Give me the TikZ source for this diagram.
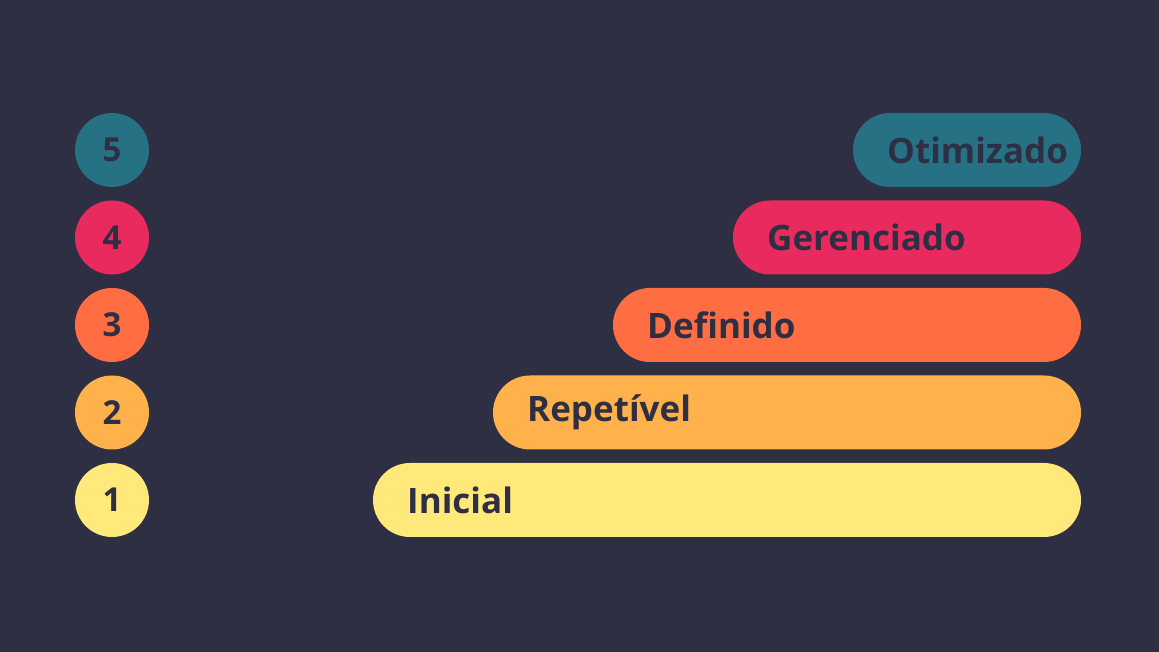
\documentclass[tikz,border=0pt]{standalone}
\usepackage{fontspec}
\setmainfont{Open Sans}
\usetikzlibrary{positioning}
\definecolor{bgnavy}{HTML}{2F2F44}
\definecolor{lvlfive}{HTML}{277185}
\definecolor{lvlfour}{HTML}{E92A5E}
\definecolor{lvlthree}{HTML}{FF6D42}
\definecolor{lvltwo}{HTML}{FFB24C}
\definecolor{lvlone}{HTML}{FFE97B}

\begin{document}
\begin{tikzpicture}[x=1pt,y=1pt,
  levelnum/.style={circle,minimum size=74pt,inner sep=0pt,text=bgnavy,font=\fontsize{33}{33}\selectfont\bfseries},
  levelbar/.style={rounded corners=37pt},
  levellabel/.style={anchor=west,inner sep=0pt,text=bgnavy,font=\fontsize{35}{35}\selectfont\bfseries}]
\fill[bgnavy] (0,0) rectangle (1159,652);
\useasboundingbox (0,0) rectangle (1159,652);
% levels: number / left edge of bar / label / colour
\foreach \n/\xl/\txt/\col in {5/853/Otimizado/lvlfive,4/733/Gerenciado/lvlfour,3/613/Definido/lvlthree,2/493/Repetível/lvltwo,1/373/Inicial/lvlone}{
  \pgfmathsetmacro{\yc}{652-150-(5-\n)*87.5}
  \node[levelnum,fill=\col] (num\n) at (112,\yc) {\n};
  \fill[\col,levelbar] (\xl,\yc-37) rectangle (1081,\yc+37);
  \node[levellabel] (lbl\n) at (\xl+34,\yc) {\txt};
}
\end{tikzpicture}
\end{document}
